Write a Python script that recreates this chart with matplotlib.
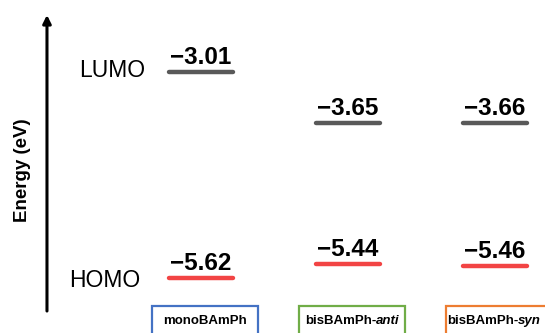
import matplotlib
matplotlib.use("Agg")
import matplotlib.pyplot as plt
from matplotlib.patches import Rectangle
import matplotlib.transforms as mtransforms

plt.rcParams['font.family'] = ['Liberation Sans', 'DejaVu Sans']

molecules = ['monoBAmPh', 'bisBAmPh-', 'bisBAmPh-']
suffixes = ['', 'anti', 'syn']
lumo = [-3.01, -3.65, -3.66]
homo = [-5.62, -5.44, -5.46]
box_colors = ['#4472C4', '#70AD47', '#ED7D31']

fig = plt.figure(figsize=(5.45, 3.33), dpi=100)
ax = fig.add_axes([0, 0, 1, 1])
ax.set_xlim(-1.367, 2.340)
ax.set_ylim(-6.314, -2.099)
ax.axis('off')

half = 0.218
for i in range(len(molecules)):
    ax.plot([i - half, i + half], [lumo[i], lumo[i]], color='#595959',
            lw=3.2, solid_capstyle='round')
    ax.plot([i - half, i + half], [homo[i], homo[i]], color='#F24444',
            lw=3.2, solid_capstyle='round')
    ax.text(i, lumo[i] + 0.10, f'\u2212{abs(lumo[i]):.2f}', ha='center',
            va='baseline', fontsize=17.5, fontweight='bold')
    ax.text(i, homo[i] + 0.10, f'\u2212{abs(homo[i]):.2f}', ha='center',
            va='baseline', fontsize=17.5, fontweight='bold')

# level labels
ax.text(-0.38, lumo[0] + 0.02, 'LUMO', ha='right', va='center', fontsize=16.5)
ax.text(-0.415, homo[0] - 0.03, 'HOMO', ha='right', va='center', fontsize=16.5)

# energy axis arrow
ax.annotate('', xy=(0.0862, 0.955), xytext=(0.0862, 0.066),
            xycoords='axes fraction', textcoords='axes fraction',
            arrowprops=dict(arrowstyle='-|>', color='black', lw=2.2,
                            mutation_scale=12, shrinkA=0, shrinkB=0))
ax.text(0.042, 0.49, 'Energy (eV)', rotation=90, ha='center', va='center',
        fontsize=13.5, fontweight='bold', transform=ax.transAxes)

# molecule boxes
trans = mtransforms.blended_transform_factory(ax.transData, ax.transAxes)
bw = 0.72
for i in range(len(molecules)):
    ax.add_patch(Rectangle((i + 0.03 - bw / 2, -0.2), bw, 0.281,
                           transform=trans, fill=False, lw=1.6,
                           edgecolor=box_colors[i], clip_on=False))

# box labels: bold prefix followed by bold italic suffix, centred together
fig.canvas.draw()
renderer = fig.canvas.get_renderer()
inv = ax.transData.inverted()
fs = 9.5
for i in range(len(molecules)):
    t1 = ax.text(0, 0, molecules[i], fontsize=fs, fontweight='bold')
    t2 = ax.text(0, 0, suffixes[i], fontsize=fs, fontweight='bold',
                 style='italic')
    w1 = t1.get_window_extent(renderer).width
    w2 = t2.get_window_extent(renderer).width if suffixes[i] else 0
    t1.remove()
    t2.remove()
    cx = ax.transData.transform((i + 0.03, 0))[0]
    x0 = min(cx - (w1 + w2) / 2, fig.bbox.width - 4 - (w1 + w2))
    xa = inv.transform((x0, 0))[0]
    xb = inv.transform((x0 + w1, 0))[0]
    ax.text(xa, 0.036, molecules[i], ha='left', va='center', fontsize=fs,
            fontweight='bold', transform=trans)
    if suffixes[i]:
        ax.text(xb, 0.036, suffixes[i], ha='left', va='center', fontsize=fs,
                fontweight='bold', style='italic', transform=trans)

fig.savefig('out.png', dpi=100)
